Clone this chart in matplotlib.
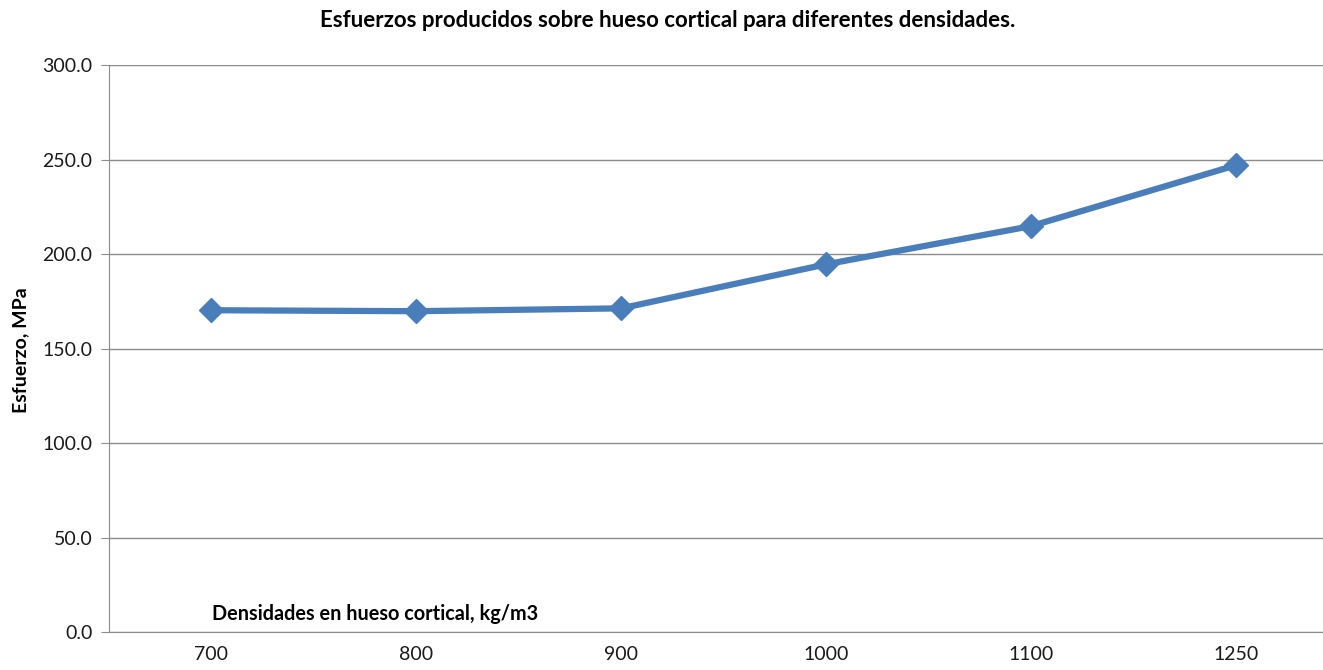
import matplotlib
matplotlib.use("Agg")
import matplotlib.pyplot as plt

# Data
densidades = ["700", "800", "900", "1000", "1100", "1250"]
esfuerzo = [170.3, 169.8, 171.3, 194.6, 214.8, 247.0]
y_ticks = [0, 50, 100, 150, 200, 250, 300]

plt.rcParams["font.family"] = ["Lato", "DejaVu Sans"]

fig = plt.figure(figsize=(13.23, 6.70), dpi=100)
ax = fig.add_axes([0.0824, 0.0567, 0.929, 0.846])

x = list(range(len(densidades)))
ax.plot(x, esfuerzo, color="#4A7EBB", lw=4.5, marker="D", markersize=12,
        markerfacecolor="#4A7EBB", markeredgecolor="#4A7EBB", zorder=3)

ax.set_xlim(-0.5, len(densidades) - 0.5)
ax.set_ylim(0, 300)
ax.set_xticks(x)
ax.set_xticklabels(densidades)
ax.set_yticks(y_ticks)
ax.set_yticklabels([f"{v:.1f}" for v in y_ticks])
ax.yaxis.grid(True, color="#8c8c8c", lw=1)
ax.set_axisbelow(True)

for s in ["top", "right"]:
    ax.spines[s].set_visible(False)
ax.spines["left"].set_color("#8c8c8c")
ax.spines["bottom"].set_color("#8c8c8c")
ax.tick_params(axis="x", length=0, pad=10, labelsize=14, colors="#1a1a1a")
ax.tick_params(axis="y", length=6, color="#8c8c8c", pad=6, labelsize=14, labelcolor="#1a1a1a")

fig.text(0.505, 0.97, "Esfuerzos producidos sobre hueso cortical para diferentes densidades.",
         ha="center", va="center", fontsize=16, fontweight="bold")
fig.text(0.016, 0.478, "Esfuerzo, MPa", rotation=90, ha="center", va="center",
         fontsize=14, fontweight="bold")
fig.text(212 / 1323, 1 - 614 / 670, "Densidades en hueso cortical, kg/m3",
         ha="left", va="center", fontsize=14.3, fontweight="bold")

fig.savefig("out.png", dpi=100)
